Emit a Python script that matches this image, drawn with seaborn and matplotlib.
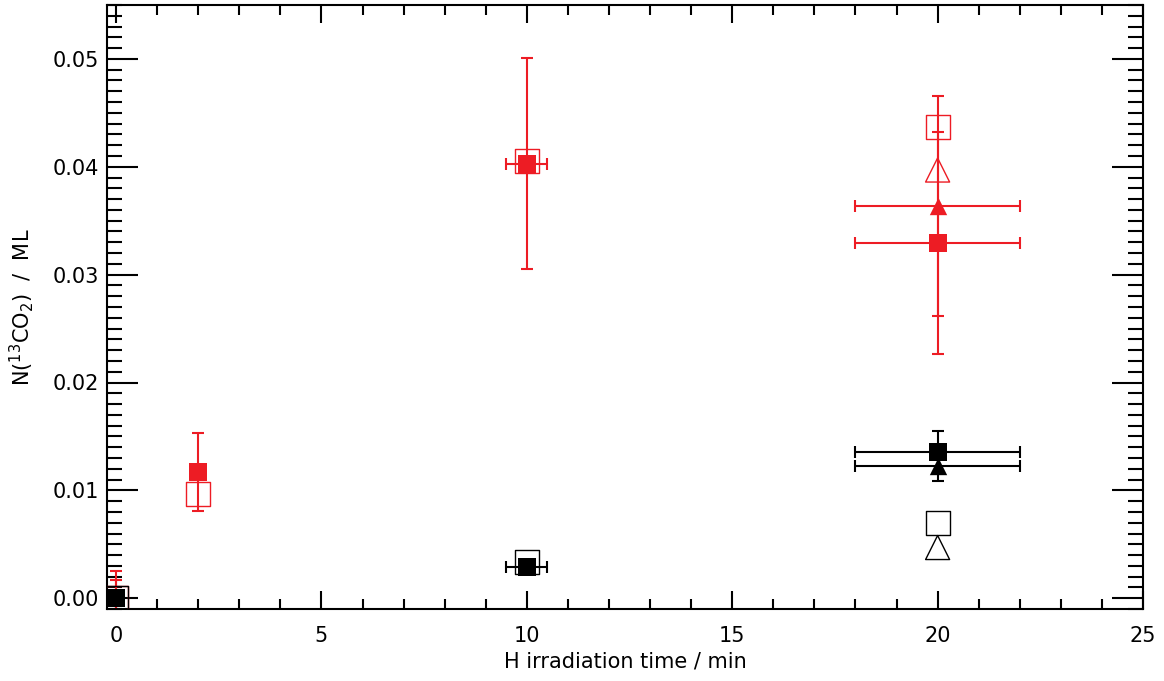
import numpy as np
import matplotlib
matplotlib.use('Agg')
import matplotlib.pyplot as plt
from matplotlib.ticker import MultipleLocator, FormatStrFormatter
import seaborn as sns

# values
# red series
red_sq_filled_x = [0, 2, 10, 20]
red_sq_filled_y = [0.0, 0.0117, 0.0403, 0.0329]
red_sq_filled_xerr = [0, 0, 0.5, 2]
red_sq_filled_yerr = [0.0025, 0.0036, 0.0098, 0.0103]

red_sq_open_x = [0, 2, 10, 20]
red_sq_open_y = [0.0, 0.0097, 0.0405, 0.0437]
red_sq_open_yerr = [0.0017, 0, 0, 0]

red_tri_filled_x = [20]
red_tri_filled_y = [0.0364]
red_tri_filled_xerr = [2]
red_tri_filled_yerr = [0.0102]

red_tri_open_x = [20]
red_tri_open_y = [0.0397]

# black series
blk_sq_filled_x = [0, 10, 20]
blk_sq_filled_y = [0.0, 0.0029, 0.0136]
blk_sq_filled_xerr = [0, 0.5, 2]
blk_sq_filled_yerr = [0, 0, 0.0019]

blk_sq_open_x = [0, 10, 20]
blk_sq_open_y = [0.0, 0.0034, 0.0070]

blk_tri_filled_x = [20]
blk_tri_filled_y = [0.0123]
blk_tri_filled_xerr = [2]
blk_tri_filled_yerr = [0.0014]

blk_tri_open_x = [20]
blk_tri_open_y = [0.0047]

RED = '#ed1c24'
BLACK = '#000000'

sns.set_style('ticks')
plt.rcParams['font.family'] = ['DejaVu Sans']
plt.rcParams['mathtext.fontset'] = 'dejavusans'
plt.rcParams['text.color'] = 'black'
plt.rcParams['axes.labelcolor'] = 'black'
plt.rcParams['xtick.color'] = 'black'
plt.rcParams['ytick.color'] = 'black'

fig = plt.figure(figsize=(11.64, 6.81), dpi=100)
ax = fig.add_axes([107 / 1164, 72 / 681, 1036 / 1164, 604 / 681])


def draw_err(x, y, color, xerr=None, yerr=None):
    x = np.asarray(x, float)
    y = np.asarray(y, float)
    if yerr is not None:
        e = np.asarray(yerr, float)
        m = e > 0
        if m.any():
            ax.errorbar(x[m], y[m], yerr=e[m], fmt='none', ecolor=color,
                        elinewidth=1.5, capsize=4.5, capthick=1.5, zorder=2)
    if xerr is not None:
        e = np.asarray(xerr, float)
        m = e > 0
        if m.any():
            ax.errorbar(x[m], y[m], xerr=e[m], fmt='none', ecolor=color,
                        elinewidth=1.5, capsize=4.5, capthick=1.5, zorder=2)


def filled(x, y, color, marker, size):
    sns.scatterplot(x=x, y=y, ax=ax, marker=marker, s=size ** 2,
                    color=color, linewidth=0, zorder=3)


def hollow(x, y, color, marker, size):
    sns.scatterplot(x=x, y=y, ax=ax, marker=marker, s=size ** 2,
                    facecolor='none', edgecolor=color, linewidth=1.0, zorder=3)


# red
draw_err(red_sq_open_x, red_sq_open_y, RED, yerr=red_sq_open_yerr)
draw_err(red_sq_filled_x, red_sq_filled_y, RED, xerr=red_sq_filled_xerr, yerr=red_sq_filled_yerr)
draw_err(red_tri_filled_x, red_tri_filled_y, RED, xerr=red_tri_filled_xerr, yerr=red_tri_filled_yerr)
hollow(red_sq_open_x, red_sq_open_y, RED, 's', 17.3)
hollow(red_tri_open_x, red_tri_open_y, RED, '^', 17.3)
filled(red_sq_filled_x, red_sq_filled_y, RED, 's', 13.5)
filled(red_tri_filled_x, red_tri_filled_y, RED, '^', 12.5)

# black
draw_err(blk_sq_filled_x, blk_sq_filled_y, BLACK, xerr=blk_sq_filled_xerr, yerr=blk_sq_filled_yerr)
draw_err(blk_tri_filled_x, blk_tri_filled_y, BLACK, xerr=blk_tri_filled_xerr, yerr=blk_tri_filled_yerr)
hollow(blk_sq_open_x, blk_sq_open_y, BLACK, 's', 17.3)
hollow(blk_tri_open_x, blk_tri_open_y, BLACK, '^', 17.3)
filled(blk_sq_filled_x, blk_sq_filled_y, BLACK, 's', 13.5)
filled(blk_tri_filled_x, blk_tri_filled_y, BLACK, '^', 12.5)

ax.set_xlim(-0.22, 25)
ax.set_ylim(-0.001, 0.055)

ax.xaxis.set_major_locator(MultipleLocator(5))
ax.xaxis.set_minor_locator(MultipleLocator(1))
ax.yaxis.set_major_locator(MultipleLocator(0.01))
ax.yaxis.set_minor_locator(MultipleLocator(0.001))
ax.yaxis.set_major_formatter(FormatStrFormatter('%.2f'))

ax.tick_params(which='both', direction='in', top=True, right=True, width=1.5, colors='black')
ax.tick_params(axis='x', which='major', length=13, pad=12, labelsize=15)
ax.tick_params(axis='x', which='minor', length=7)
ax.tick_params(axis='y', which='major', length=22, pad=6, labelsize=15)
ax.tick_params(axis='y', which='minor', length=11)

for sp in ax.spines.values():
    sp.set_visible(True)
    sp.set_linewidth(1.5)
    sp.set_color('black')

ax.set_xlabel('H irradiation time / min', fontsize=15, labelpad=4)
ax.set_ylabel(r'N($^{13}$CO$_2$)  /  ML', fontsize=15, labelpad=12)

fig.savefig('out.png', dpi=100)
